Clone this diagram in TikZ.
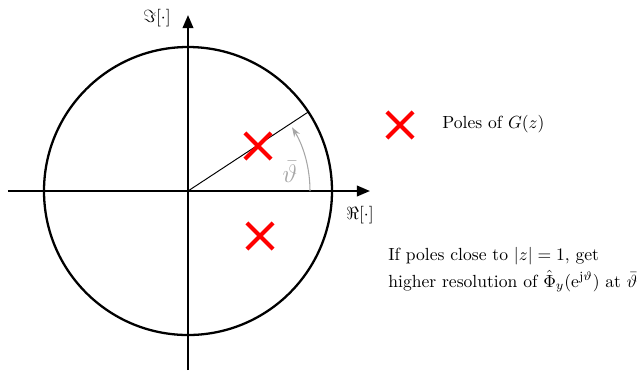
\documentclass[tikz,border=0pt]{standalone}
\usetikzlibrary{arrows.meta,shapes.misc}
\begin{document}
\begin{tikzpicture}[x=0.0200cm,y=0.0200cm,
  axis/.style={line width=1.3pt,-{Stealth[length=7.5pt,width=6pt,inset=0pt]}},
  unitcircle/.style={line width=1.3pt},
  pole/.style={draw=red,cross out,line width=2.4pt,minimum size=0.44cm,inner sep=0pt},
  anglearrow/.style={gray!70,line width=0.6pt,-{Stealth[length=5.5pt,width=3.8pt]}},
  lbl/.style={inner sep=0pt}]
\useasboundingbox (-188,-179) rectangle (450,191);
\coordinate (O) at (0,0);
\coordinate (xl) at (-180,0);
\coordinate (xr) at (182,0);
\coordinate (yb) at (0,-179);
\coordinate (yt) at (0,176);
\draw[unitcircle] (O) circle (144);
\draw[axis] (xl) -- (xr);
\draw[axis] (yb) -- (yt);
\coordinate (R) at (33.3:144);
\draw[line width=0.55pt] (O) -- (R);
\coordinate (A0) at (122,0);
\draw[anglearrow] (A0) arc[start angle=0,end angle=31.5,radius=122];
\node[lbl,text=gray!70] (theta) at (102,19) {\Large$\bar\vartheta$};
\node[lbl] (imlab) at (-31,173) {$\Im[\cdot]$};
\node[lbl] (relab) at (172,-24) {$\Re[\cdot]$};
\node[pole] (p1) at (70,45) {};
\node[pole] (p2) at (72,-45) {};
\node[pole] (pl) at (212,66) {};
\node[lbl,anchor=base west] (legend) at (254,63) {Poles of $G(z)$};
\node[lbl,anchor=base west] (note1) at (200,-69) {If poles close to $|z|=1$, get};
\node[lbl,anchor=base west] (note2) at (200,-96) {higher resolution of $\hat\Phi_y(\mathrm{e}^{\mathrm{j}\vartheta})$ at $\bar\vartheta$};
\end{tikzpicture}
\end{document}
